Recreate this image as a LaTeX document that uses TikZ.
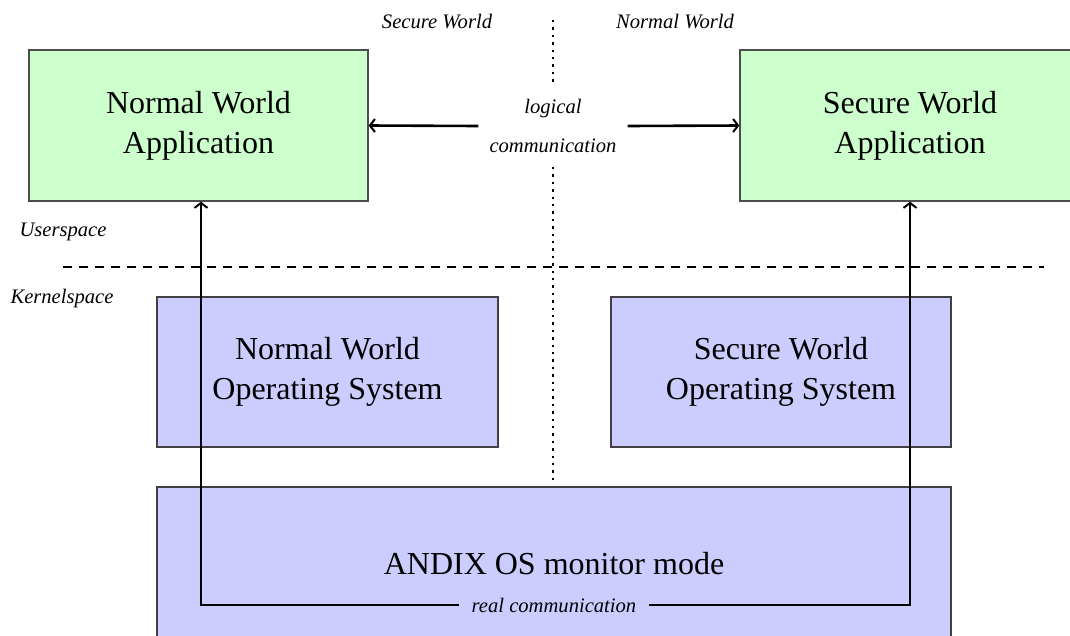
\documentclass[tikz,border=0pt]{standalone}
\usepackage{fontspec}
\setmainfont{Liberation Serif}
\usetikzlibrary{arrows.meta}

\definecolor{userfill}{HTML}{CCFFCC}
\definecolor{kernfill}{HTML}{CCCCFF}

\tikzset{
  appbox/.style={draw=black!70, line width=1.3pt, fill=userfill, inner sep=0pt,
    align=center, font=\fontsize{32}{40}\selectfont},
  osbox/.style={draw=black!75, line width=1.3pt, fill=kernfill, inner sep=0pt,
    align=center, font=\fontsize{32}{40}\selectfont},
  tag/.style={font=\fontsize{20.6}{39}\selectfont\itshape, align=center},
  comm/.style={line width=2.6pt, -{Straight Barb[length=5pt,width=13pt,line width=2pt]}},
  boundary/.style={line width=2.4pt, dash pattern=on 9pt off 7pt},
  divider/.style={line width=2.6pt, dash pattern=on 2.4pt off 5pt},
}

\begin{document}
\begin{tikzpicture}[x=1pt, y=-1pt]
  \useasboundingbox (0,0) rectangle (1070,635);
  \clip (0,0) rectangle (1070,635);

  % world labels and separator
  \node[tag] (secw) at (437,22) {Secure World};
  \node[tag] (normw) at (675,22) {Normal World};
  \node[tag] (user) at (63,232) {Userspace};
  \node[tag] (kern) at (62,299) {Kernelspace};

  \coordinate (dashl) at (63,267);
  \coordinate (dashr) at (1044,267);
  \draw[boundary] (dashl) -- (dashr);

  % user space applications
  \node[appbox, minimum width=339pt, minimum height=151pt] (nwa) at (198.5,125.5)
    {Normal World\\Application};
  \node[appbox, minimum width=340pt, minimum height=151pt] (swa) at (910,125.5)
    {Secure World\\Application};

  % kernel space
  \node[osbox, minimum width=341pt, minimum height=150pt] (nwos) at (327.5,372)
    {Normal World\\Operating System};
  \node[osbox, minimum width=340pt, minimum height=150pt] (swos) at (781,372)
    {Secure World\\Operating System};
  \node[osbox, minimum width=794pt, minimum height=154pt] (mon) at (554,564)
    {ANDIX OS monitor mode};

  % logical communication between the applications
  \node[tag, inner xsep=11pt, inner ysep=14pt] (lc) at (553,126)
    {logical\\communication};
  \draw[comm] (lc.west) -- (nwa.east);
  \draw[comm] (lc.east) -- (swa.west);

  \coordinate (dtop) at (553,20);
  \coordinate (dbot) at (553,480);
  \draw[divider] (dtop) -- (lc.north);
  \draw[divider] (lc.south) -- (dbot);

  % real communication through the monitor
  \node[tag, inner xsep=13pt] (rc) at (554,605) {real communication};
  \coordinate (bl) at (201,605);
  \coordinate (br) at (910,605);
  \draw[comm] (rc.west) -- (bl) -- (bl |- nwa.south);
  \draw[comm] (rc.east) -- (br) -- (br |- swa.south);
\end{tikzpicture}
\end{document}
